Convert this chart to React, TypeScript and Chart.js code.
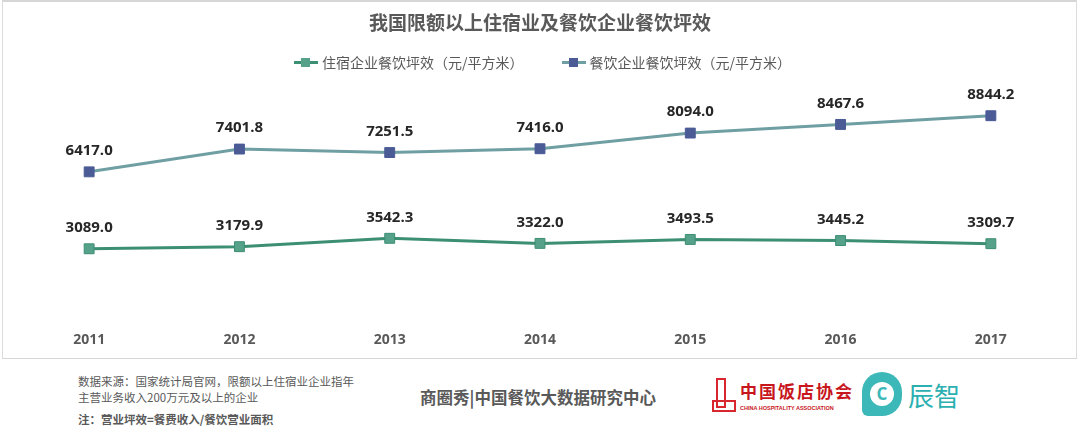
import React, { useEffect, useRef } from "react";
import { Chart, registerables } from "chart.js";

Chart.register(...registerables);

const years = ["2011", "2012", "2013", "2014", "2015", "2016", "2017"];
const hotelLabel = "住宿企业餐饮坪效（元/平方米）";
const restaurantLabel = "餐饮企业餐饮坪效（元/平方米）";
const hotelValues = [3089.0, 3179.9, 3542.3, 3322.0, 3493.5, 3445.2, 3309.7];
const restaurantValues = [6417.0, 7401.8, 7251.5, 7416.0, 8094.0, 8467.6, 8844.2];
const title = "我国限额以上住宿业及餐饮企业餐饮坪效";

const GREEN_LINE = "#3D8F74";
const GREEN_POINT = "#56A18A";
const BLUE_LINE = "#6F9FA3";
const BLUE_POINT = "#4B5B96";

const CJK = '"Noto Sans CJK SC", "Noto Sans", sans-serif';

const labelPlugin = {
  id: "valueLabels",
  afterDatasetsDraw(chart: any) {
    const ctx = chart.ctx;
    ctx.save();
    ctx.font = 'bold 15px "Open Sans", "Noto Sans", sans-serif';
    ctx.fillStyle = "#262626";
    ctx.textAlign = "center";
    ctx.textBaseline = "middle";
    chart.data.datasets.forEach((ds: any, i: number) => {
      const meta = chart.getDatasetMeta(i);
      meta.data.forEach((pt: any, j: number) => {
        ctx.fillText(Number(ds.data[j]).toFixed(1), pt.x, pt.y - 21);
      });
    });
    ctx.restore();
  },
};

function LegendItem({ line, point, text }: { line: string; point: string; text: string }) {
  return (
    <div style={{ display: "flex", alignItems: "center" }}>
      <div style={{ position: "relative", width: 24, height: 10, marginRight: 4 }}>
        <div style={{ position: "absolute", left: 0, top: 4, width: 24, height: 3, background: line }} />
        <div style={{ position: "absolute", left: 7, top: 1, width: 9, height: 9, background: point }} />
      </div>
      <span style={{ fontFamily: CJK, fontSize: 14, color: "#595959" }}>{text}</span>
    </div>
  );
}

export default function App() {
  const ref = useRef<HTMLCanvasElement>(null);

  useEffect(() => {
    if (!ref.current) return;
    const chart = new Chart(ref.current, {
      type: "line",
      data: {
        labels: years,
        datasets: [
          {
            label: hotelLabel,
            data: hotelValues,
            borderColor: GREEN_LINE,
            backgroundColor: GREEN_POINT,
            pointBackgroundColor: GREEN_POINT,
            pointBorderColor: GREEN_LINE,
            pointBorderWidth: 1,
            borderWidth: 3,
            pointStyle: "rect",
            pointRadius: 7,
            tension: 0,
          },
          {
            label: restaurantLabel,
            data: restaurantValues,
            borderColor: BLUE_LINE,
            backgroundColor: BLUE_POINT,
            pointBackgroundColor: BLUE_POINT,
            pointBorderColor: BLUE_POINT,
            pointBorderWidth: 1,
            borderWidth: 3,
            pointStyle: "rect",
            pointRadius: 7,
            tension: 0,
          },
        ],
      },
      options: {
        responsive: false,
        animation: false,
        layout: { padding: { top: 89, left: 14, right: 14, bottom: 1 } },
        plugins: {
          legend: { display: false },
          title: { display: false },
          tooltip: { enabled: false },
        },
        scales: {
          x: {
            offset: true,
            grid: { display: false, drawTicks: false },
            border: { display: false },
            ticks: {
              padding: 11,
              color: "#595959",
              font: { family: '"Open Sans", "Noto Sans", sans-serif', size: 14, weight: "bold" },
            },
          },
          y: {
            display: false,
            min: 0,
            max: 10000,
          },
        },
      },
      plugins: [labelPlugin],
    });
    return () => chart.destroy();
  }, []);

  return (
    <div style={{ position: "fixed", left: 0, top: 0, width: 1080, height: 434, background: "#fff", overflow: "hidden" }}>
      <div
        style={{
          position: "absolute",
          left: 2,
          top: 0,
          width: 1073,
          height: 356,
          borderTop: "2px solid #d6d6d6",
          borderLeft: "1px solid #dcdcdc",
          borderRight: "1px solid #dcdcdc",
          borderBottom: "1px solid #d6d6d6",
        }}
      />
      <canvas ref={ref} width={1080} height={360} style={{ position: "absolute", left: 0, top: 0, width: 1080, height: 360 }} />
      <div
        style={{
          position: "absolute",
          left: 0,
          top: 8,
          width: 1080,
          textAlign: "center",
          fontFamily: CJK,
          fontWeight: "bold",
          fontSize: 19,
          lineHeight: "28px",
          color: "#595959",
        }}
      >
        {title}
      </div>
      <div style={{ position: "absolute", left: 294, top: 52, display: "flex", alignItems: "center", height: 20 }}>
        <LegendItem line={GREEN_LINE} point={GREEN_POINT} text={hotelLabel} />
        <div style={{ width: 38 }} />
        <LegendItem line={BLUE_LINE} point={BLUE_POINT} text={restaurantLabel} />
      </div>
      <div style={{ position: "absolute", left: 78, top: 373, fontFamily: CJK, fontSize: 11.5, color: "#595959", lineHeight: "16px" }}>
        <div>数据来源：国家统计局官网，限额以上住宿业企业指年</div>
        <div>主营业务收入200万元及以上的企业</div>
        <div style={{ fontWeight: "bold", marginTop: 6 }}>注：营业坪效=餐费收入/餐饮营业面积</div>
      </div>
      <div
        style={{
          position: "absolute",
          left: 420,
          top: 386,
          fontFamily: CJK,
          fontWeight: "bold",
          fontSize: 16.5,
          color: "#595959",
          lineHeight: "22px",
          whiteSpace: "nowrap",
        }}
      >
        商圈秀|中国餐饮大数据研究中心
      </div>
      <div style={{ position: "absolute", left: 712, top: 376, width: 140, height: 40 }}>
        <div style={{ position: "absolute", left: 4, top: 2, width: 10, height: 30, border: "2px solid #D7262E", boxSizing: "border-box" }} />
        <div style={{ position: "absolute", left: 0, top: 24, width: 24, height: 12, border: "2px solid #D7262E", boxSizing: "border-box" }} />
        <div
          style={{
            position: "absolute",
            left: 28,
            top: 2,
            fontFamily: '"Noto Sans CJK SC", serif',
            fontWeight: "bold",
            fontSize: 17,
            color: "#C8161D",
            letterSpacing: 2,
            whiteSpace: "nowrap",
          }}
        >
          中国饭店协会
        </div>
        <div
          style={{
            position: "absolute",
            left: 28,
            top: 29,
            fontFamily: '"Liberation Sans", sans-serif',
            fontWeight: "bold",
            fontSize: 5.5,
            color: "#C8161D",
            whiteSpace: "nowrap",
          }}
        >
          CHINA HOSPITALITY ASSOCIATION
        </div>
      </div>
      <div
        style={{
          position: "absolute",
          left: 862,
          top: 372,
          width: 40,
          height: 44,
          borderRadius: "20px 20px 20px 6px",
          background: "#3DB8B8",
        }}
      >
        <div
          style={{
            position: "absolute",
            left: 8,
            top: 10,
            width: 24,
            height: 24,
            borderRadius: 12,
            background: "#fff",
            color: "#3DB8B8",
            fontFamily: '"Open Sans", sans-serif',
            fontWeight: "bold",
            fontSize: 17,
            lineHeight: "24px",
            textAlign: "center",
          }}
        >
          C
        </div>
      </div>
      <div
        style={{
          position: "absolute",
          left: 908,
          top: 378,
          fontFamily: CJK,
          fontSize: 26,
          color: "#2BAFB0",
          lineHeight: "34px",
          whiteSpace: "nowrap",
        }}
      >
        辰智
      </div>
    </div>
  );
}
